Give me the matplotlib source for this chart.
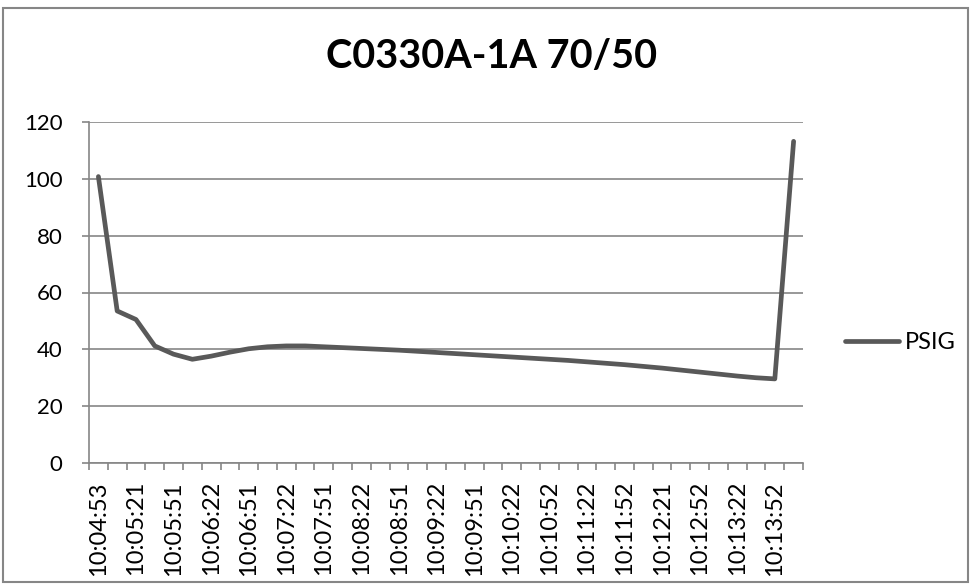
import matplotlib.pyplot as plt
from matplotlib.patches import Rectangle
from matplotlib.ticker import FixedLocator

# sample times (every other one is labelled on the axis)
times = ['10:04:53', '10:05:07', '10:05:21', '10:05:36', '10:05:51', '10:06:07',
         '10:06:22', '10:06:36', '10:06:51', '10:07:07', '10:07:22', '10:07:36',
         '10:07:51', '10:08:07', '10:08:22', '10:08:36', '10:08:51', '10:09:07',
         '10:09:22', '10:09:36', '10:09:51', '10:10:07', '10:10:22', '10:10:37',
         '10:10:52', '10:11:07', '10:11:22', '10:11:37', '10:11:52', '10:12:06',
         '10:12:21', '10:12:37', '10:12:52', '10:13:07', '10:13:22', '10:13:37',
         '10:13:52', '10:14:07']
psig = [100.8, 53.5, 50.5, 41.2, 38.3, 36.5, 37.6, 39.0, 40.2, 40.9,
        41.2, 41.2, 40.9, 40.6, 40.3, 40.0, 39.7, 39.3, 38.9, 38.5,
        38.1, 37.7, 37.3, 36.9, 36.5, 36.1, 35.6, 35.1, 34.6, 34.0,
        33.4, 32.7, 32.0, 31.3, 30.6, 30.0, 29.6, 113.2]
title = 'C0330A-1A 70/50'
series_name = 'PSIG'

plt.rcParams['font.family'] = ['Lato', 'DejaVu Sans']
grid_col = '#868686'
line_col = '#595959'

fig = plt.figure(figsize=(9.71, 5.87), dpi=100)
fig.patches.append(Rectangle((3 / 971, 1 - 582 / 587), 965 / 971, 574 / 587,
                             transform=fig.transFigure, fill=False,
                             edgecolor=grid_col, linewidth=1.5))

ax = fig.add_axes([89 / 971, 1 - 463 / 587, 714 / 971, 341 / 587])
x = list(range(len(psig)))
ax.plot(x, psig, color=line_col, linewidth=3.4, solid_capstyle='round',
        solid_joinstyle='round', label=series_name, zorder=3)

ax.set_ylim(0, 120)
ax.set_xlim(-0.5, len(psig) - 0.5)
ax.set_yticks(range(0, 121, 20))
ax.yaxis.grid(True, color=grid_col, linewidth=1.2)
ax.set_axisbelow(True)

ax.xaxis.set_major_locator(FixedLocator(x[::2]))
ax.set_xticklabels(times[::2], rotation=90)
ax.xaxis.set_minor_locator(FixedLocator([i - 0.5 for i in range(len(psig) + 1)]))
ax.tick_params(axis='x', which='major', length=0, pad=13, labelsize=17)
ax.tick_params(axis='x', which='minor', length=5, width=1.2, color=grid_col)
ax.tick_params(axis='y', length=5, width=1.2, color=grid_col, pad=14, labelsize=16)

for side in ['top', 'right']:
    ax.spines[side].set_visible(False)
for side in ['left', 'bottom']:
    ax.spines[side].set_color(grid_col)
    ax.spines[side].set_linewidth(1.2)

fig.text(492 / 971, 1 - 57 / 587, title, ha='center', va='center',
         fontsize=28.5, fontweight='bold')

ax.legend(loc='center left', bbox_to_anchor=(1.059, 0.352), frameon=False,
          fontsize=17, handlelength=2.3, handletextpad=0.25, borderpad=0,
          borderaxespad=0)

fig.savefig('out.png', dpi=100)
